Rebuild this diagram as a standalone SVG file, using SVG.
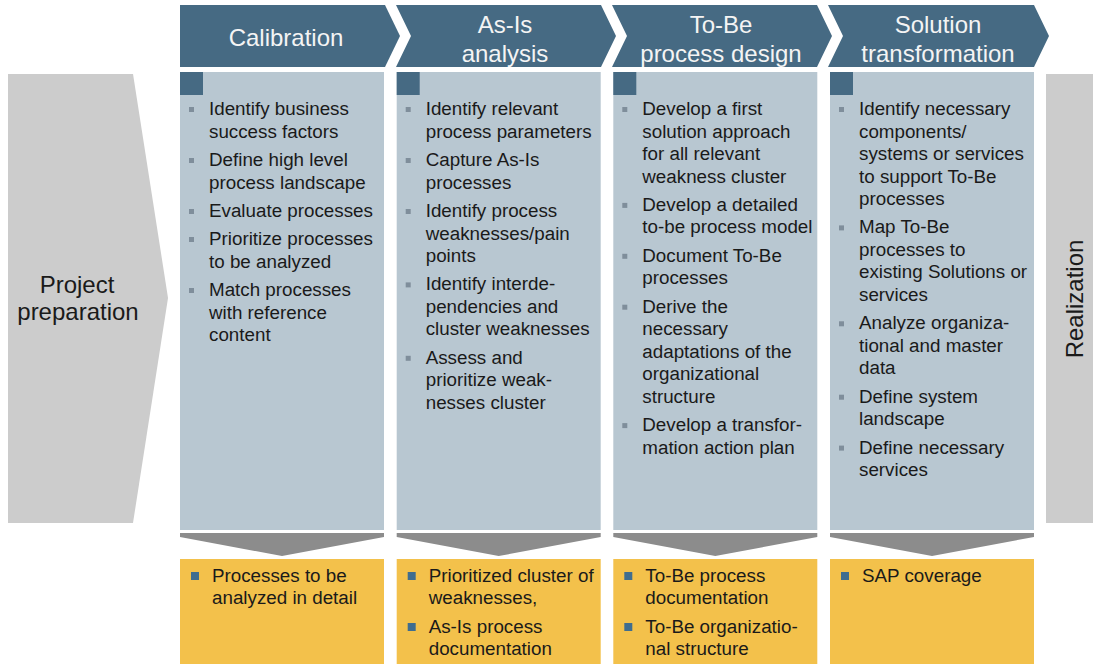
<svg xmlns="http://www.w3.org/2000/svg" width="1096" height="664" viewBox="0 0 1096 664">
<style>
.hdr{fill:#466a83}
.body{fill:#b8c7d1}
.sq{fill:#466a83}
.side{fill:#cccccc}
.out{fill:#f3c14b}
.down{fill:#8c8c8c}
.ht{font-family:"Liberation Sans",Arial,sans-serif;font-size:24px;fill:#f4f4f4;text-anchor:middle}
.bt{font-family:"Liberation Sans",Arial,sans-serif;font-size:18.8px;fill:#1a1a1a}
.st{font-family:"Liberation Sans",Arial,sans-serif;font-size:24px;fill:#1a1a1a;text-anchor:middle}
.bb{fill:#7f8e9b}
.yb{fill:#3f6d8f}
</style>
<rect width="1096" height="664" fill="#ffffff"/>
<g id="project-preparation">
<polygon class="side" points="8,74 133,74 168,298 133,523 8,523"/>
<text class="st" x="77" y="293">Project</text>
<text class="st" x="78" y="320">preparation</text>
</g>
<g id="realization">
<rect class="side" x="1046" y="74" width="47" height="449"/>
<text class="st" transform="translate(1083,299) rotate(-90)">Realization</text>
</g>
<g id="calibration">
<polygon class="hdr" points="180,5 385,5 400,36 385,67 180,67"/>
<text class="ht" x="286" y="46">Calibration</text>
<rect class="body" x="180" y="72" width="204" height="458"/>
<rect class="sq" x="180" y="72" width="23" height="23"/>
<g class="bt">
<rect class="bb" x="189" y="107" width="5" height="5"/>
<text x="209" y="115">Identify business</text>
<text x="209" y="137.5">success factors</text>
<rect class="bb" x="189" y="158" width="5" height="5"/>
<text x="209" y="166">Define high level</text>
<text x="209" y="188.5">process landscape</text>
<rect class="bb" x="189" y="209" width="5" height="5"/>
<text x="209" y="217">Evaluate processes</text>
<rect class="bb" x="189" y="237" width="5" height="5"/>
<text x="209" y="245">Prioritize processes</text>
<text x="209" y="267.5">to be analyzed</text>
<rect class="bb" x="189" y="288" width="5" height="5"/>
<text x="209" y="296">Match processes</text>
<text x="209" y="318.5">with reference</text>
<text x="209" y="341">content</text>
</g>
<polygon class="down" points="180,533 384,533 384,537 282,556 180,537"/>
<rect class="out" x="180" y="559" width="204" height="105"/>
<rect class="yb" x="191" y="572" width="8" height="8"/>
<text class="bt" x="212" y="581.5">Processes to be</text>
<text class="bt" x="212" y="603.5">analyzed in detail</text>
</g>
<g id="as-is-analysis">
<polygon class="hdr" points="396,5 601,5 616,36 601,67 396,67 411,36"/>
<text class="ht" x="505" y="33">As-Is</text>
<text class="ht" x="505" y="62">analysis</text>
<rect class="body" x="396.7" y="72" width="204" height="458"/>
<rect class="sq" x="396.7" y="72" width="23" height="23"/>
<g class="bt">
<rect class="bb" x="405.7" y="107" width="5" height="5"/>
<text x="425.7" y="115">Identify relevant</text>
<text x="425.7" y="137.5">process parameters</text>
<rect class="bb" x="405.7" y="158" width="5" height="5"/>
<text x="425.7" y="166">Capture As-Is</text>
<text x="425.7" y="188.5">processes</text>
<rect class="bb" x="405.7" y="209" width="5" height="5"/>
<text x="425.7" y="217">Identify process</text>
<text x="425.7" y="239.5">weaknesses/pain</text>
<text x="425.7" y="262">points</text>
<rect class="bb" x="405.7" y="282.4" width="5" height="5"/>
<text x="425.7" y="290.4">Identify interde-</text>
<text x="425.7" y="312.9">pendencies and</text>
<text x="425.7" y="335.4">cluster weaknesses</text>
<rect class="bb" x="405.7" y="355.8" width="5" height="5"/>
<text x="425.7" y="363.8">Assess and</text>
<text x="425.7" y="386.3">prioritize weak-</text>
<text x="425.7" y="408.8">nesses cluster</text>
</g>
<polygon class="down" points="396.7,533 600.7,533 600.7,537 498.7,556 396.7,537"/>
<rect class="out" x="396.7" y="559" width="204" height="105"/>
<rect class="yb" x="407.7" y="572" width="8" height="8"/>
<text class="bt" x="428.7" y="581.5">Prioritized cluster of</text>
<text class="bt" x="428.7" y="603.5">weaknesses,</text>
<rect class="yb" x="407.7" y="623" width="8" height="8"/>
<text class="bt" x="428.7" y="632.5">As-Is process</text>
<text class="bt" x="428.7" y="654.5">documentation</text>
</g>
<g id="to-be-process-design">
<polygon class="hdr" points="612,5 817,5 832,36 817,67 612,67 627,36"/>
<text class="ht" x="721" y="33">To-Be</text>
<text class="ht" x="721" y="62">process design</text>
<rect class="body" x="613.3" y="72" width="204" height="458"/>
<rect class="sq" x="613.3" y="72" width="23" height="23"/>
<g class="bt">
<rect class="bb" x="622.3" y="107" width="5" height="5"/>
<text x="642.3" y="115">Develop a first</text>
<text x="642.3" y="137.5">solution approach</text>
<text x="642.3" y="160">for all relevant</text>
<text x="642.3" y="182.5">weakness cluster</text>
<rect class="bb" x="622.3" y="202.9" width="5" height="5"/>
<text x="642.3" y="210.9">Develop a detailed</text>
<text x="642.3" y="233.4">to-be process model</text>
<rect class="bb" x="622.3" y="253.8" width="5" height="5"/>
<text x="642.3" y="261.8">Document To-Be</text>
<text x="642.3" y="284.3">processes</text>
<rect class="bb" x="622.3" y="304.7" width="5" height="5"/>
<text x="642.3" y="312.7">Derive the</text>
<text x="642.3" y="335.2">necessary</text>
<text x="642.3" y="357.7">adaptations of the</text>
<text x="642.3" y="380.2">organizational</text>
<text x="642.3" y="402.7">structure</text>
<rect class="bb" x="622.3" y="423.1" width="5" height="5"/>
<text x="642.3" y="431.1">Develop a transfor-</text>
<text x="642.3" y="453.6">mation action plan</text>
</g>
<polygon class="down" points="613.3,533 817.3,533 817.3,537 715.3,556 613.3,537"/>
<rect class="out" x="613.3" y="559" width="204" height="105"/>
<rect class="yb" x="624.3" y="572" width="8" height="8"/>
<text class="bt" x="645.3" y="581.5">To-Be process</text>
<text class="bt" x="645.3" y="603.5">documentation</text>
<rect class="yb" x="624.3" y="623" width="8" height="8"/>
<text class="bt" x="645.3" y="632.5">To-Be organizatio-</text>
<text class="bt" x="645.3" y="654.5">nal structure</text>
</g>
<g id="solution-transformation">
<polygon class="hdr" points="828,5 1034,5 1049,36 1034,67 828,67 843,36"/>
<text class="ht" x="938" y="33">Solution</text>
<text class="ht" x="938" y="62">transformation</text>
<rect class="body" x="830" y="72" width="204" height="458"/>
<rect class="sq" x="830" y="72" width="23" height="23"/>
<g class="bt">
<rect class="bb" x="839" y="107" width="5" height="5"/>
<text x="859" y="115">Identify necessary</text>
<text x="859" y="137.5">components/</text>
<text x="859" y="160">systems or services</text>
<text x="859" y="182.5">to support To-Be</text>
<text x="859" y="205">processes</text>
<rect class="bb" x="839" y="225.4" width="5" height="5"/>
<text x="859" y="233.4">Map To-Be</text>
<text x="859" y="255.9">processes to</text>
<text x="859" y="278.4">existing Solutions or</text>
<text x="859" y="300.9">services</text>
<rect class="bb" x="839" y="321.3" width="5" height="5"/>
<text x="859" y="329.3">Analyze organiza-</text>
<text x="859" y="351.8">tional and master</text>
<text x="859" y="374.3">data</text>
<rect class="bb" x="839" y="394.7" width="5" height="5"/>
<text x="859" y="402.7">Define system</text>
<text x="859" y="425.2">landscape</text>
<rect class="bb" x="839" y="445.6" width="5" height="5"/>
<text x="859" y="453.6">Define necessary</text>
<text x="859" y="476.1">services</text>
</g>
<polygon class="down" points="830,533 1034,533 1034,537 932,556 830,537"/>
<rect class="out" x="830" y="559" width="204" height="105"/>
<rect class="yb" x="841" y="572" width="8" height="8"/>
<text class="bt" x="862" y="581.5">SAP coverage</text>
</g>
<g id="connectors"></g>
</svg>
